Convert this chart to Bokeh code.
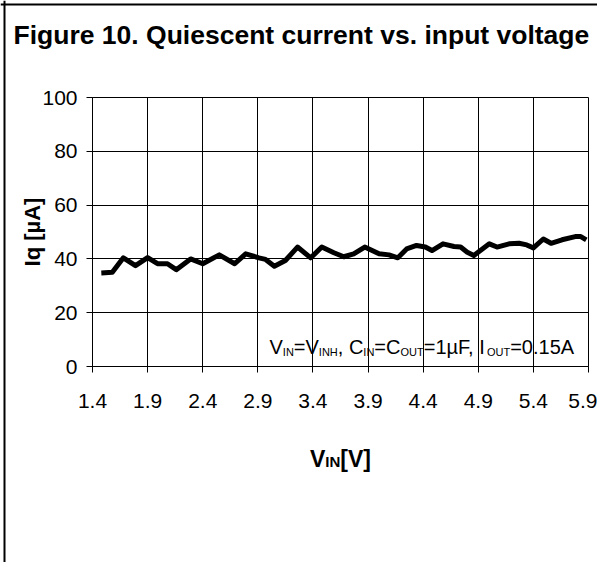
import math
from bokeh.plotting import figure
from bokeh.models import Label, FixedTicker, Range1d, Span
from bokeh.embed import file_html
from bokeh.resources import INLINE

# ---------------- data ----------------
v_in = [1.48, 1.58, 1.68, 1.79, 1.90, 1.99, 2.08, 2.16, 2.29, 2.40,
        2.55, 2.69, 2.79, 2.91, 2.97, 3.05, 3.15, 3.26, 3.38, 3.48,
        3.59, 3.68, 3.77, 3.87, 4.00, 4.09, 4.17, 4.25, 4.34, 4.42,
        4.48, 4.58, 4.68, 4.74, 4.80, 4.86, 5.00, 5.07, 5.18, 5.27,
        5.34, 5.40, 5.49, 5.56, 5.66, 5.78, 5.83, 5.88]
iq_ua = [34.8, 35.0, 40.4, 37.5, 40.5, 38.2, 38.2, 36.0, 40.0, 38.2,
         41.5, 38.2, 41.9, 40.4, 39.8, 37.3, 39.4, 44.4, 40.4, 44.4,
         42.3, 40.8, 41.9, 44.4, 41.9, 41.5, 40.4, 43.7, 45.0, 44.4,
         43.1, 45.6, 44.6, 44.4, 42.5, 41.3, 45.6, 44.4, 45.6, 45.8,
         45.2, 44.1, 47.4, 45.8, 47.1, 48.3, 48.3, 47.1]

x_ticks = [1.4, 1.9, 2.4, 2.9, 3.4, 3.9, 4.4, 4.9, 5.4, 5.9]
x_tick_labels = ["1.4", "1.9", "2.4", "2.9", "3.4", "3.9", "4.4", "4.9", "5.4", "5.9"]
y_ticks = [0, 20, 40, 60, 80, 100]
y_tick_labels = ["0", "20", "40", "60", "80", "100"]

title_text = "Figure 10. Quiescent current vs. input voltage"
y_label_text = "Iq [µA]"
x_label_parts = [("V", False), ("IN", True), ("[V]", False)]
note_parts = [("V", False), ("IN", True), ("=V", False), ("INH", True),
              (", C", False), ("IN", True), ("=C", False), ("OUT", True),
              ("=1µF, I", False), ("OUT", True), ("=0.15A", False)]

# ---------------- layout (picture pixels) ----------------
FONT = "Liberation Sans"
ORIGIN = 0                         # canvas origin in the picture
W, H = 597, 562
FL, FT, FR, FB = 92, 97, 588, 366  # plot-area edges
X0, X1, Y0, Y1 = x_ticks[0], x_ticks[-1], y_ticks[0], y_ticks[-1]
KX = (FR - FL) / (X1 - X0)         # px per volt
KY = (FB - FT) / (Y1 - Y0)         # px per µA

def xd(px):
    return X0 + (px - FL) / KX

def yd(py):
    return Y0 + (FB - py) / KY

p = figure(width=W, height=H,
           x_range=Range1d(xd(ORIGIN), xd(ORIGIN + W)),
           y_range=Range1d(yd(ORIGIN + H), yd(ORIGIN)),
           output_backend="svg", toolbar_location=None,
           min_border=0, min_border_left=0, min_border_right=0,
           min_border_top=0, min_border_bottom=0,
           background_fill_color="white", border_fill_color="white")
p.outline_line_color = None

for ax in (p.xaxis, p.yaxis):
    ax.axis_line_color = "black"
    ax.axis_line_width = 1
    ax.major_tick_line_color = "black"
    ax.major_tick_out = 6
    ax.major_tick_in = 0
    ax.minor_tick_line_color = None
    ax.major_label_text_font = FONT
    ax.major_label_text_font_size = "21px"
    ax.major_label_text_color = "black"

p.xaxis.ticker = FixedTicker(ticks=x_ticks)
p.xaxis.major_label_overrides = dict(zip(x_ticks, x_tick_labels))
p.xaxis.major_label_standoff = 21
p.xaxis.fixed_location = Y0
p.xaxis.bounds = (X0, X1)
p.yaxis.ticker = FixedTicker(ticks=y_ticks)
p.yaxis.major_label_overrides = dict(zip(y_ticks, y_tick_labels))
p.yaxis.major_label_standoff = 9
p.yaxis.fixed_location = X0
p.yaxis.bounds = (Y0, Y1)

p.xgrid.grid_line_color = "black"
p.ygrid.grid_line_color = "black"
p.xgrid.grid_line_alpha = 1
p.ygrid.grid_line_alpha = 1
p.xgrid.grid_line_width = 1
p.ygrid.grid_line_width = 1
p.xgrid.bounds = (X0, X1)
p.ygrid.bounds = (Y0, Y1)
p.xgrid.cross_bounds = (Y0, Y1)
p.ygrid.cross_bounds = (X0, X1)

p.line(v_in, iq_ua, line_width=5, line_color="black", line_join="round")

# outer frame of the figure box (left and top edges)
p.add_layout(Span(location=xd(4), dimension="height",
                  line_color="black", line_width=2))
p.add_layout(Span(location=yd(4), dimension="width",
                  line_color="black", line_width=2))

# Arial / Liberation Sans advance widths (per 1000 em)
REG = {"V": 667, "I": 278, "N": 722, "H": 722, "=": 584, ",": 278, " ": 278,
       "C": 722, "O": 778, "U": 722, "T": 611, "1": 556, "µ": 576, "F": 611,
       "0": 556, ".": 278, "5": 556, "A": 667}
BOLD = {"V": 667, "I": 278, "N": 722, "[": 333, "]": 333}

def text_width(s, size, table):
    return sum(table.get(c, 556) for c in s) * size / 1000.0

# title
p.add_layout(Label(x=xd(13), y=yd(34), text=title_text, text_font=FONT,
                   text_font_size="26.5px", text_font_style="bold",
                   text_color="black", text_align="left",
                   text_baseline="alphabetic"))

# y axis label (rotated)
p.add_layout(Label(x=xd(32), y=yd((FT + FB) / 2), text=y_label_text,
                   text_font=FONT, text_font_size="22px",
                   text_font_style="bold", text_color="black",
                   text_align="center", text_baseline="middle",
                   angle=math.pi / 2))

# x axis label with subscript
MAIN_X, SUB_X = 23, 15
total = sum(text_width(t, SUB_X if s else MAIN_X, BOLD) for t, s in x_label_parts)
cx = (FL + FR) / 2 - total / 2
for t, s in x_label_parts:
    size = SUB_X if s else MAIN_X
    base = 461 if s else 458
    p.add_layout(Label(x=xd(cx), y=yd(base), text=t, text_font=FONT,
                       text_font_size=f"{size}px", text_font_style="bold",
                       text_color="black", text_align="left",
                       text_baseline="alphabetic"))
    cx += text_width(t, size, BOLD)

# condition note with subscripts
MAIN_N, SUB_N = 20, 11
cx = 269
for t, s in note_parts:
    size = SUB_N if s else MAIN_N
    base = 351 if s else 346.5
    p.add_layout(Label(x=xd(cx), y=yd(base), text=t, text_font=FONT,
                       text_font_size=f"{size}px", text_color="black",
                       text_align="left", text_baseline="alphabetic"))
    cx += text_width(t, size, REG)

open("out.html", "w").write(file_html(p, INLINE))
